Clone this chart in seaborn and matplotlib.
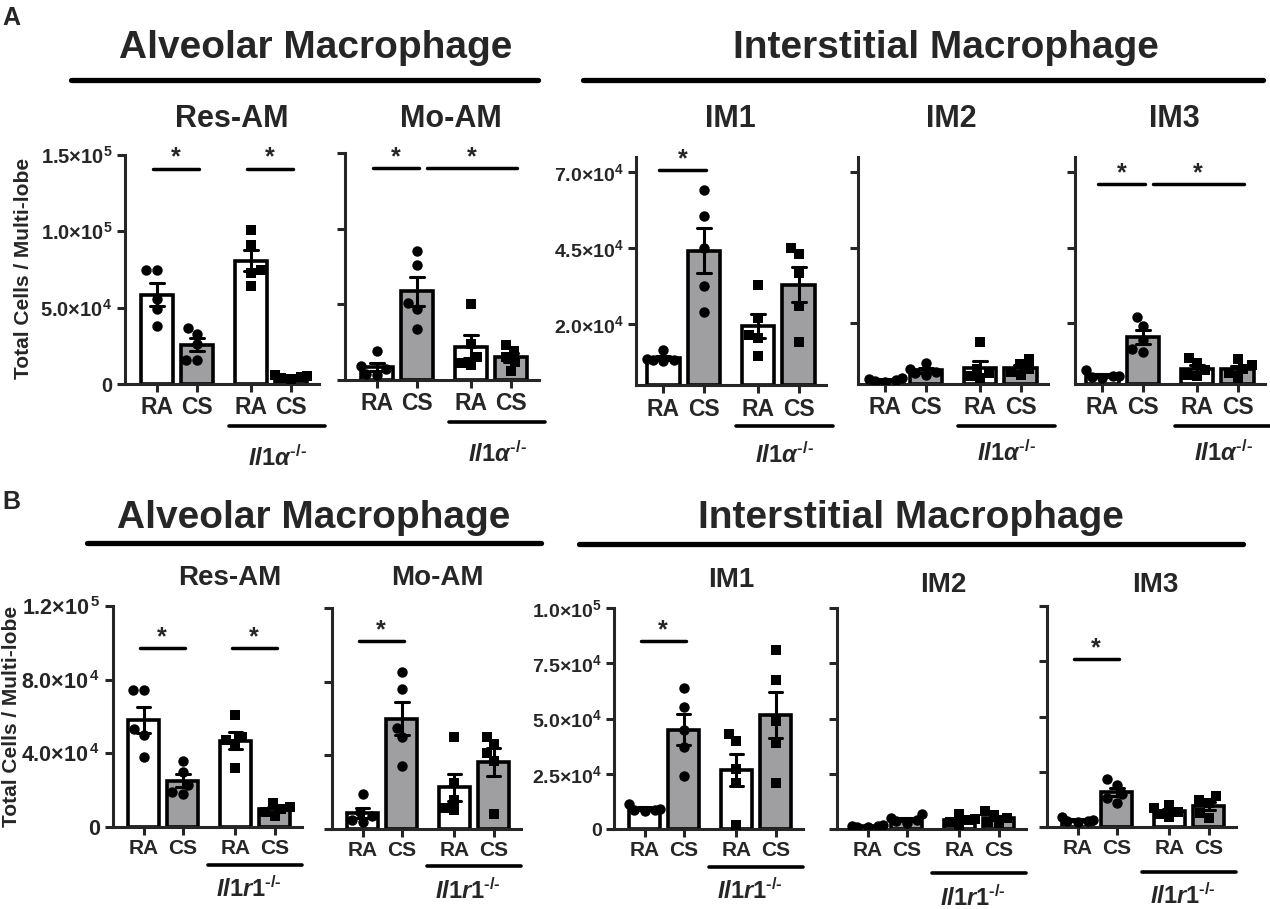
import pandas as pd
import matplotlib
matplotlib.use('Agg')
import matplotlib.pyplot as plt
from matplotlib.lines import Line2D
import seaborn as sns

# cell counts in units of 1e4, groups: RA, CS, KO RA, KO CS
conds = ['RA', 'CS', 'RA', 'CS']

a_resam = [[7.5, 7.5, 5.6, 4.9, 3.8], [3.7, 3.3, 2.6, 1.6, 1.6],
           [10.1, 9.1, 7.5, 7.3, 6.4], [0.6, 0.5, 0.45, 0.4, 0.3]]
a_moam = [[1.9, 0.9, 0.7, 0.4, 0.35], [8.5, 7.6, 5.1, 4.7, 3.4],
          [5.0, 2.4, 1.5, 1.1, 1.0], [2.3, 1.9, 1.5, 1.2, 0.6]]
a_im1 = [[1.15, 0.85, 0.82, 0.82, 0.8], [6.4, 5.55, 4.5, 3.25, 2.4],
         [3.3, 2.2, 1.65, 1.55, 0.95], [4.5, 4.3, 3.7, 2.6, 1.4]]
a_im2 = [[0.2, 0.15, 0.12, 0.1, 0.08], [0.7, 0.5, 0.4, 0.35, 0.3],
         [1.4, 0.5, 0.35, 0.25, 0.2], [0.82, 0.65, 0.5, 0.4, 0.3]]
a_im3 = [[0.45, 0.25, 0.25, 0.22, 0.2], [2.2, 1.9, 1.45, 1.15, 1.05],
         [0.85, 0.68, 0.46, 0.3, 0.25], [0.82, 0.62, 0.48, 0.35, 0.2]]

b_resam = [[7.45, 7.45, 5.3, 5.0, 3.8], [3.6, 3.0, 2.3, 1.9, 1.8],
           [6.1, 4.9, 4.7, 4.5, 3.2], [1.3, 1.1, 1.0, 0.8, 0.6]]
b_moam = [[1.9, 0.95, 0.7, 0.5, 0.4], [8.5, 7.6, 5.5, 5.0, 3.4],
          [5.0, 2.5, 1.6, 1.15, 1.05], [5.0, 4.6, 4.1, 3.7, 0.8]]
b_im1 = [[1.15, 0.9, 0.88, 0.85, 0.82], [6.4, 5.5, 4.5, 3.7, 2.4],
         [4.3, 4.0, 2.7, 2.1, 0.2], [8.1, 6.75, 4.9, 3.9, 2.1]]
b_im2 = [[0.2, 0.15, 0.12, 0.1, 0.08], [0.68, 0.5, 0.4, 0.35, 0.27],
         [0.7, 0.45, 0.4, 0.3, 0.2], [0.8, 0.65, 0.5, 0.3, 0.25]]
b_im3 = [[0.45, 0.3, 0.28, 0.25, 0.22], [2.15, 1.9, 1.5, 1.3, 1.1],
         [1.0, 0.85, 0.7, 0.6, 0.45], [1.4, 1.2, 1.1, 0.65, 0.4]]

# significance: (group i, group j, height in 1e4)
a_sig = {'resam': [(0, 1, 14.1), (2, 3, 14.1)], 'moam': [(0, 1, 14.0), (1, 3, 14.0)],
         'im1': [(0, 1, 7.07)], 'im2': [], 'im3': [(0, 1, 6.6), (1, 3, 6.6)]}
b_sig = {'resam': [(0, 1, 9.7), (2, 3, 9.7)], 'moam': [(0, 1, 10.2)],
         'im1': [(0, 1, 8.5)], 'im2': [], 'im3': [(0, 1, 7.6)]}

a_ticks_am = [0, 5e4, 1e5, 1.5e5]
a_ticklabels_am = ['0', '5.0×10$^{\\mathrm{4}}$', '1.0×10$^{\\mathrm{5}}$', '1.5×10$^{\\mathrm{5}}$']
a_ticks_im = [2e4, 4.5e4, 7e4]
a_ticklabels_im = ['2.0×10$^{\\mathrm{4}}$', '4.5×10$^{\\mathrm{4}}$', '7.0×10$^{\\mathrm{4}}$']
b_ticks_am = [0, 4e4, 8e4, 1.2e5]
b_ticklabels_am = ['0', '4.0×10$^{\\,\\mathrm{4}}$', '8.0×10$^{\\,\\mathrm{4}}$', '1.2×10$^{\\,\\mathrm{5}}$']
b_ticks_im = [0, 2.5e4, 5e4, 7.5e4, 1e5]
b_ticklabels_im = ['0', '2.5×10$^{\\mathrm{4}}$', '5.0×10$^{\\mathrm{4}}$', '7.5×10$^{\\mathrm{4}}$', '1.0×10$^{\\mathrm{5}}$']

sns.set_style('ticks')
plt.rcParams['font.family'] = ['Liberation Sans', 'DejaVu Sans']
plt.rcParams['font.weight'] = 'bold'
plt.rcParams['mathtext.fontset'] = 'custom'
plt.rcParams['mathtext.rm'] = 'Liberation Sans:bold'
plt.rcParams['mathtext.it'] = 'Liberation Sans:italic:bold'
plt.rcParams['mathtext.bf'] = 'Liberation Sans:bold'

W, H = 1270, 909
fig = plt.figure(figsize=(W / 100, H / 100), dpi=100)
pos = [0, 1, 2.35, 3.35]
GRAY = '#9e9ea2'


def to_frame(vals):
    rows = []
    for i, grp in enumerate(vals):
        for v in grp:
            rows.append({'pos': pos[i], 'cond': conds[i],
                         'geno': 'WT' if i < 2 else 'KO', 'val': v * 1e4})
    return pd.DataFrame(rows)


def draw_panel(box, vals, xlim, ylim, yticks, ylabels, ysize, xsize, sig,
               geno_label, line_off, label_off, line_x, label_x):
    l, t, w, h = box
    ax = fig.add_axes([l / W, 1 - (t + h) / H, w / W, h / H])
    df = to_frame(vals)
    sns.barplot(data=df, x='pos', y='val', hue='cond', hue_order=['RA', 'CS'],
                palette={'RA': 'white', 'CS': GRAY}, native_scale=True, dodge=False,
                errorbar='se', capsize=0.35, width=0.8,
                err_kws={'color': 'black', 'linewidth': 2.2},
                edgecolor='black', linewidth=2.6, legend=False, ax=ax)
    sns.swarmplot(data=df[df.geno == 'WT'], x='pos', y='val', native_scale=True,
                  color='black', marker='o', size=7.5, ax=ax, zorder=4)
    sns.swarmplot(data=df[df.geno == 'KO'], x='pos', y='val', native_scale=True,
                  color='black', marker='s', size=7, ax=ax, zorder=4)
    ax.set_xlim(*xlim)
    ax.set_ylim(*ylim)
    ax.set_xticks(pos)
    ax.set_xticklabels(conds, fontsize=xsize, fontweight='bold')
    ax.set_yticks(yticks)
    ax.set_yticklabels(ylabels if ylabels else [''] * len(yticks),
                       fontsize=ysize, fontweight='bold')
    ax.set_xlabel('')
    ax.set_ylabel('')
    sns.despine(ax=ax)
    for s in ['left', 'bottom']:
        ax.spines[s].set_linewidth(2.2)
    ax.tick_params(width=2.2, length=6, pad=3)

    for i, j, hh in sig:
        if j - i == 1:
            x0, x1 = pos[i] - 0.1, pos[j] + 0.05
        else:
            x0, x1 = pos[i] + 0.25, pos[j] + 0.15
        ax.plot([x0, x1], [hh * 1e4] * 2, color='black', lw=2.5, clip_on=False)
        ax.annotate('*', xy=((x0 + x1) / 2, hh * 1e4), xytext=(0, 8),
                    textcoords='offset points', ha='center', va='center',
                    fontsize=18, fontweight='bold')

    tr = ax.get_xaxis_transform()
    ax.plot(line_x, [-line_off / h] * 2, color='black', lw=2.6,
            transform=tr, clip_on=False)
    ax.text(label_x, -label_off / h, geno_label, transform=tr, ha='center',
            va='center', fontsize=17)
    return ax


# ---- row A ----
geno_a = '$\\mathit{Il1\\alpha}^{\\text{-/-}}$'
am_x = (-0.8, 4.05)
im_x = (-0.68, 4.03)
draw_panel([125, 155, 194, 229], a_resam, am_x, (0, 1.5e5), a_ticks_am, a_ticklabels_am,
           14.5, 16.5, a_sig['resam'], geno_a, 42, 74, [1.8, 4.2], 3.0)
draw_panel([345, 153, 194, 227], a_moam, am_x, (0, 1.5e5), a_ticks_am, None,
           14.5, 16.5, a_sig['moam'], geno_a, 42, 74, [1.8, 4.2], 3.0)
draw_panel([636, 157, 190, 228], a_im1, im_x, (0, 7.5e4), a_ticks_im, a_ticklabels_im,
           14, 16.5, a_sig['im1'], geno_a, 41, 70, [1.8, 4.2], 3.0)
draw_panel([858, 157, 190, 227], a_im2, im_x, (0, 7.5e4), a_ticks_im, None,
           14, 16.5, a_sig['im2'], geno_a, 42, 69, [1.8, 4.2], 3.0)
draw_panel([1075, 157, 190, 227], a_im3, im_x, (0, 7.5e4), a_ticks_im, None,
           14, 16.5, a_sig['im3'], geno_a, 42, 69, [1.8, 4.2], 3.0)

# ---- row B ----
geno_b = '$\\mathit{Il1r1}^{\\text{-/-}}$'
b_x = (-0.78, 4.05)
draw_panel([113, 606, 189, 221], b_resam, b_x, (0, 1.2e5), b_ticks_am, b_ticklabels_am,
           15.5, 15, b_sig['resam'], geno_b, 38, 62, [1.65, 4.05], 2.7)
draw_panel([332, 608, 189, 221], b_moam, b_x, (0, 1.2e5), b_ticks_am, None,
           15.5, 15, b_sig['moam'], geno_b, 37, 62, [1.65, 4.05], 2.7)
draw_panel([614, 608, 189, 221], b_im1, b_x, (0, 1e5), b_ticks_im, b_ticklabels_im,
           14, 15, b_sig['im1'], geno_b, 38, 62, [1.65, 4.05], 2.7)
draw_panel([837, 608, 189, 221], b_im2, b_x, (0, 1e5), b_ticks_im, None,
           14, 15, b_sig['im2'], geno_b, 44, 69, [1.65, 4.05], 2.7)
draw_panel([1047, 606, 189, 221], b_im3, b_x, (0, 1e5), b_ticks_im, None,
           14, 15, b_sig['im3'], geno_b, 45, 69, [1.65, 4.05], 2.7)

# ---- headings and group lines ----
def ftext(x, y, s, **kw):
    fig.text(x / W, 1 - y / H, s, **kw)


def fline(x0, x1, y, lw=3.8):
    fig.add_artist(Line2D([x0 / W, x1 / W], [1 - y / H] * 2, color='black', lw=lw))


ftext(2, 18, 'A', fontsize=18, va='center', ha='left')
ftext(2, 502, 'B', fontsize=18, va='center', ha='left')

ftext(316, 58, 'Alveolar Macrophage', fontsize=28, ha='center', va='baseline')
ftext(946, 58, 'Interstitial Macrophage', fontsize=28, ha='center', va='baseline')
fline(71, 538, 80)
fline(583, 1263, 80)
ftext(314, 528, 'Alveolar Macrophage', fontsize=28, ha='center', va='baseline')
ftext(911, 528, 'Interstitial Macrophage', fontsize=28, ha='center', va='baseline')
fline(87, 541, 543)
fline(579, 1243, 544)

for x, s in [(232, 'Res-AM'), (451, 'Mo-AM'), (730, 'IM1'), (951, 'IM2'), (1174, 'IM3')]:
    ftext(x, 127, s, fontsize=22, ha='center', va='baseline')
for x, y, s in [(230, 585, 'Res-AM'), (437, 585, 'Mo-AM'), (731, 587, 'IM1'),
                (943, 592, 'IM2'), (1155, 592, 'IM3')]:
    ftext(x, y, s, fontsize=20, ha='center', va='baseline')

ftext(24, 268, 'Total Cells / Multi-lobe', fontsize=15, rotation=90, ha='center', va='center')
ftext(12, 716, 'Total Cells / Multi-lobe', fontsize=15, rotation=90, ha='center', va='center')

fig.savefig('out.png', dpi=100)
